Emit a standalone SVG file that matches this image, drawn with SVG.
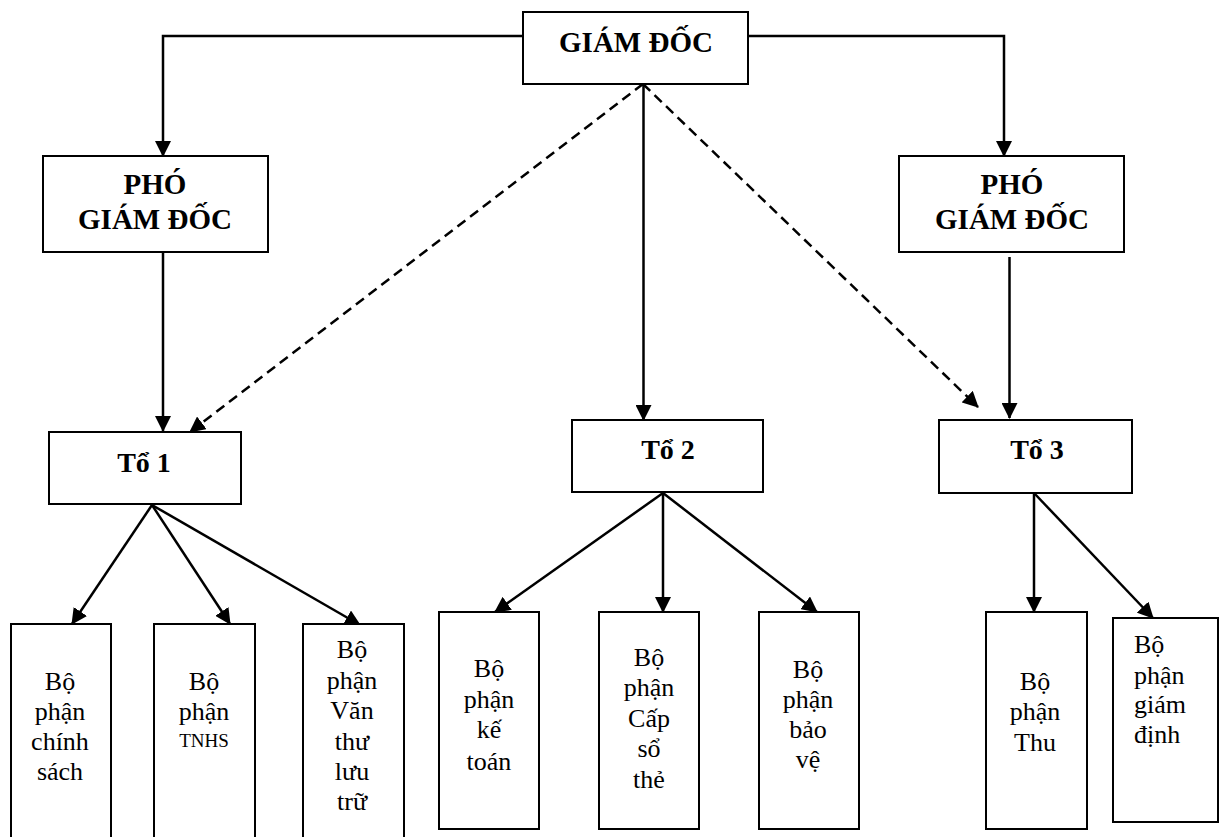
<svg xmlns="http://www.w3.org/2000/svg" width="1221" height="837" viewBox="0 0 1221 837">
<style>
rect{fill:#fff;stroke:#000;stroke-width:2}
text{fill:#000}
.h{font-size:29px;font-weight:bold;text-anchor:middle}
.t{font-size:28px;font-weight:bold;text-anchor:middle}
.b{font-size:26px;text-anchor:middle}
.s{font-size:19px;text-anchor:middle}
.l{font-size:26px}
.c line,.c polyline{stroke:#000;stroke-width:2.5;fill:none;marker-end:url(#ah)}
.c .d{stroke-dasharray:10 6}
</style>
<defs>
<marker id="ah" markerUnits="userSpaceOnUse" markerWidth="17" markerHeight="16" refX="15" refY="8" orient="auto" viewBox="0 0 17 16">
<path d="M0,0 L16,8 L0,16 z" fill="#000"/>
</marker>
</defs>
<rect width="1221" height="837" style="fill:#fff;stroke:none"/>
<g class="c" id="connectors">
<polyline points="523,36 163,36 163,156"/>
<polyline points="748,36 1004,36 1004,156"/>
<line x1="163" y1="253" x2="163" y2="431"/>
<line x1="1009.5" y1="257" x2="1009.5" y2="418"/>
<line x1="643.5" y1="84" x2="643.5" y2="420"/>
<line class="d" x1="643" y1="84" x2="190" y2="432"/>
<line class="d" x1="643" y1="84" x2="978" y2="407"/>
<line x1="152" y1="505" x2="72" y2="624"/>
<line x1="152" y1="505" x2="230" y2="624"/>
<line x1="152" y1="505" x2="360" y2="625"/>
<line x1="663" y1="493" x2="495" y2="612"/>
<line x1="663" y1="493" x2="663" y2="612"/>
<line x1="663" y1="493" x2="817" y2="612"/>
<line x1="1034" y1="493" x2="1034" y2="612"/>
<line x1="1034" y1="493" x2="1153" y2="618"/>
</g>
<g font-family="'Liberation Serif', 'Times New Roman', Tinos, 'DejaVu Serif', serif">
<g id="giam-doc">
<rect x="523" y="12" width="225" height="72"/>
<text class="h" x="636" y="52">GIÁM ĐỐC</text>
</g>
<g id="pho-giam-doc-1">
<rect x="43" y="156" width="225" height="96"/>
<text class="h" x="155" y="194">PHÓ</text>
<text class="h" x="155" y="229">GIÁM ĐỐC</text>
</g>
<g id="pho-giam-doc-2">
<rect x="899" y="156" width="225" height="96"/>
<text class="h" x="1012" y="194">PHÓ</text>
<text class="h" x="1012" y="229">GIÁM ĐỐC</text>
</g>
<g id="to-1">
<rect x="49" y="432" width="192" height="72"/>
<text class="t" x="144" y="472">Tổ 1</text>
</g>
<g id="to-2">
<rect x="572" y="420" width="191" height="72"/>
<text class="t" x="668" y="459">Tổ 2</text>
</g>
<g id="to-3">
<rect x="939" y="420" width="193" height="73"/>
<text class="t" x="1037" y="459">Tổ 3</text>
</g>
<g id="bp-chinh-sach">
<rect x="11" y="624" width="100" height="220"/>
<text class="b" x="60" y="690">Bộ</text>
<text class="b" x="60" y="720">phận</text>
<text class="b" x="60" y="750">chính</text>
<text class="b" x="60" y="780">sách</text>
</g>
<g id="bp-tnhs">
<rect x="154" y="624" width="101" height="220"/>
<text class="b" x="204" y="690">Bộ</text>
<text class="b" x="204" y="720">phận</text>
<text class="s" x="204" y="747">TNHS</text>
</g>
<g id="bp-van-thu">
<rect x="303" y="624" width="101" height="220"/>
<text class="b" x="352" y="658">Bộ</text>
<text class="b" x="352" y="689">phận</text>
<text class="b" x="352" y="719">Văn</text>
<text class="b" x="352" y="750">thư</text>
<text class="b" x="352" y="780">lưu</text>
<text class="b" x="352" y="810">trữ</text>
</g>
<g id="bp-ke-toan">
<rect x="439" y="612" width="100" height="217"/>
<text class="b" x="489" y="677">Bộ</text>
<text class="b" x="489" y="708">phận</text>
<text class="b" x="489" y="738">kế</text>
<text class="b" x="489" y="770">toán</text>
</g>
<g id="bp-cap-so-the">
<rect x="599" y="612" width="100" height="217"/>
<text class="b" x="649" y="666">Bộ</text>
<text class="b" x="649" y="696">phận</text>
<text class="b" x="649" y="727">Cấp</text>
<text class="b" x="649" y="757">sổ</text>
<text class="b" x="649" y="788">thẻ</text>
</g>
<g id="bp-bao-ve">
<rect x="759" y="612" width="100" height="217"/>
<text class="b" x="808" y="678">Bộ</text>
<text class="b" x="808" y="708">phận</text>
<text class="b" x="808" y="738">bảo</text>
<text class="b" x="808" y="768">vệ</text>
</g>
<g id="bp-thu">
<rect x="986" y="612" width="101" height="217"/>
<text class="b" x="1035" y="690">Bộ</text>
<text class="b" x="1035" y="720">phận</text>
<text class="b" x="1035" y="751">Thu</text>
</g>
<g id="bp-giam-dinh">
<rect x="1113" y="618" width="105" height="204"/>
<text class="l" x="1134" y="653">Bộ</text>
<text class="l" x="1134" y="684">phận</text>
<text class="l" x="1134" y="713">giám</text>
<text class="l" x="1134" y="743">định</text>
</g>
</g>
</svg>
